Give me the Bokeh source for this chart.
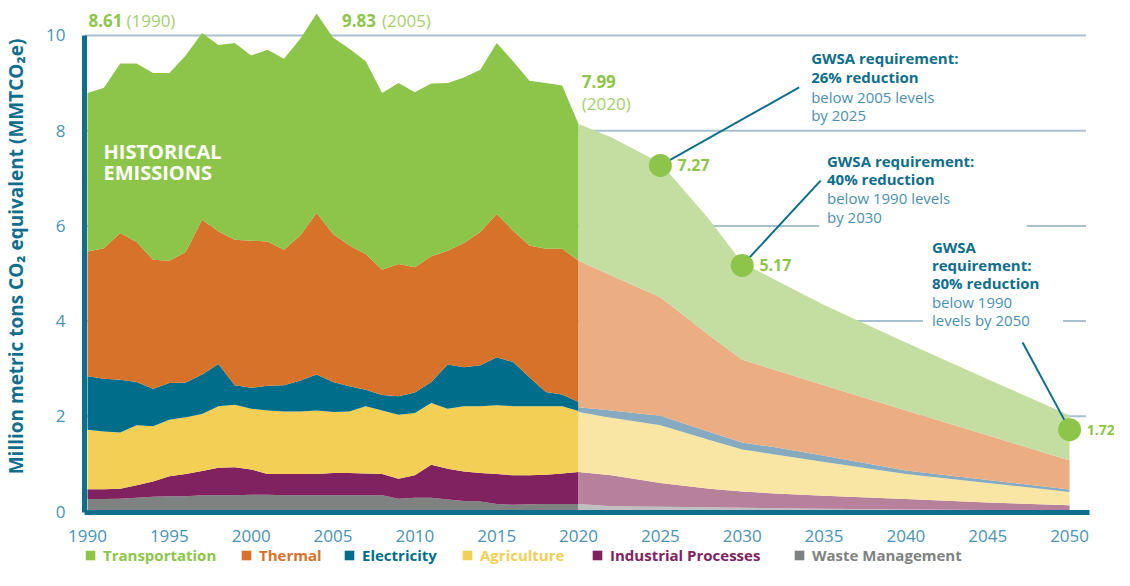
from bokeh.plotting import figure
from bokeh.models import (Range1d, FixedTicker, Label, Legend, LegendItem,
                          BoxAnnotation, ColumnDataSource)
from bokeh.layouts import column
from bokeh.embed import file_html
from bokeh.resources import INLINE

# ---------------- data (million metric tons CO2e) ----------------
hist_years = list(range(1990, 2021))
hist_waste = [0.26, 0.26, 0.27, 0.29, 0.31, 0.32, 0.32, 0.34, 0.34, 0.34, 0.35,
              0.35, 0.34, 0.34, 0.34, 0.34, 0.34, 0.34, 0.34, 0.27, 0.29,
              0.29, 0.25, 0.22, 0.21, 0.16, 0.14, 0.15, 0.16, 0.16, 0.16]
hist_industrial = [0.21, 0.21, 0.21, 0.26, 0.32, 0.42, 0.47, 0.51, 0.58, 0.59, 0.53,
                   0.44, 0.45, 0.45, 0.45, 0.47, 0.47, 0.46, 0.45, 0.42, 0.47,
                   0.69, 0.65, 0.62, 0.60, 0.63, 0.62, 0.61, 0.61, 0.64, 0.67]
hist_agriculture = [1.25, 1.21, 1.18, 1.26, 1.16, 1.19, 1.19, 1.20, 1.29, 1.31, 1.28,
                    1.33, 1.31, 1.31, 1.33, 1.28, 1.29, 1.41, 1.33, 1.34, 1.31,
                    1.30, 1.26, 1.37, 1.40, 1.44, 1.45, 1.45, 1.44, 1.41, 1.28]
hist_electricity = [1.12, 1.11, 1.11, 0.91, 0.79, 0.77, 0.73, 0.83, 0.89, 0.41, 0.44,
                    0.52, 0.55, 0.65, 0.76, 0.63, 0.53, 0.35, 0.33, 0.39, 0.43,
                    0.44, 0.93, 0.82, 0.86, 1.01, 0.93, 0.61, 0.30, 0.25, 0.19]
hist_thermal = [2.62, 2.74, 3.08, 2.94, 2.71, 2.57, 2.74, 3.25, 2.78, 3.06, 3.09,
                3.03, 2.85, 3.05, 3.39, 3.11, 2.96, 2.85, 2.63, 2.78, 2.63,
                2.64, 2.39, 2.61, 2.80, 3.01, 2.76, 2.77, 3.01, 3.06, 2.97]
hist_transportation = [3.33, 3.37, 3.56, 3.75, 3.92, 3.94, 4.13, 3.92, 3.92, 4.13, 3.89,
                       4.03, 4.01, 4.13, 4.19, 4.13, 4.13, 4.05, 3.71, 3.80, 3.68,
                       3.63, 3.52, 3.48, 3.41, 3.59, 3.56, 3.46, 3.48, 3.43, 2.87]

proj_years = [2020, 2022, 2025, 2028, 2030, 2032, 2035, 2040, 2045, 2050]
proj_waste = [0.16, 0.11, 0.10, 0.09, 0.08, 0.07, 0.06, 0.04, 0.03, 0.01]
proj_industrial = [0.67, 0.65, 0.50, 0.39, 0.34, 0.31, 0.27, 0.22, 0.16, 0.12]
proj_agriculture = [1.26, 1.21, 1.21, 1.02, 0.88, 0.82, 0.71, 0.53, 0.41, 0.28]
proj_electricity = [0.10, 0.15, 0.20, 0.17, 0.15, 0.15, 0.13, 0.07, 0.06, 0.05]
proj_thermal = [3.08, 2.84, 2.49, 2.03, 1.74, 1.62, 1.48, 1.26, 0.94, 0.61]
proj_transportation = [2.87, 2.90, 2.82, 2.43, 2.03, 1.90, 1.69, 1.43, 1.18, 0.95]

sectors = ["Transportation", "Thermal", "Electricity", "Agriculture",
           "Industrial Processes", "Waste Management"]
dark_colors = ["#8dc54a", "#d67229", "#006e8b", "#f3cf56", "#80225f", "#7e8281"]
light_colors = ["#c4dea2", "#ebae82", "#86aabf", "#f9e6a5", "#b7819c", "#c0c0c0"]

target_years = [2025, 2030, 2050]
target_values = [7.27, 5.17, 1.72]
target_texts = ["7.27", "5.17", "1.72"]

ref_values = ["8.61", "9.83", "7.99"]
ref_years = ["(1990)", "(2005)", "(2020)"]

y_ticks = [0, 2, 4, 6, 8, 10]
x_ticks = list(range(1990, 2051, 5))

# ---------------- figure ----------------
TEAL = "#0f6e8c"
LIGHT_TEAL = "#4a8fae"
GREEN = "#8dc54a"
PALE_GREEN = "#a4cf6e"
FONT = "Open Sans"
X0, X1 = 1989.817, 2052.744
Y0, Y1 = -0.021, 10.735

p = figure(width=1114, height=546, output_backend="svg", toolbar_location=None,
           x_range=Range1d(X0, X1), y_range=Range1d(Y0, Y1),
           min_border_left=82, min_border_right=0, min_border_top=0,
           min_border_bottom=34)
p.outline_line_color = None
p.background_fill_color = "white"
p.xgrid.visible = False
p.ygrid.visible = False

# horizontal guide lines (one per non-zero y tick), ending just past 2050
grid_levels = [t for t in y_ticks if t > 0]
grid_end = proj_years[-1] + 1.0
p.segment(x0=[X0] * len(grid_levels), y0=grid_levels,
          x1=[grid_end] * len(grid_levels), y1=grid_levels,
          line_color="#a9c0d0", line_width=2)

keys = ["waste", "industrial", "agriculture", "electricity", "thermal", "transportation"]
hist_src = ColumnDataSource(dict(year=hist_years, waste=hist_waste,
                                 industrial=hist_industrial, agriculture=hist_agriculture,
                                 electricity=hist_electricity, thermal=hist_thermal,
                                 transportation=hist_transportation))
proj_src = ColumnDataSource(dict(year=proj_years, waste=proj_waste,
                                 industrial=proj_industrial, agriculture=proj_agriculture,
                                 electricity=proj_electricity, thermal=proj_thermal,
                                 transportation=proj_transportation))

p.varea_stack(stackers=keys, x="year", color=list(reversed(dark_colors)), source=hist_src)
p.varea_stack(stackers=keys, x="year", color=list(reversed(light_colors)), source=proj_src)

# white boxes behind annotation text that interrupt guide lines
p.add_layout(BoxAnnotation(left=2034.70, right=2047.38, bottom=5.90, top=6.41,
                           fill_color="white", fill_alpha=1, line_color=None))
p.add_layout(BoxAnnotation(left=2041.04, right=2049.60, bottom=3.76, top=4.22,
                           fill_color="white", fill_alpha=1, line_color=None))

# leader lines from target dots to the requirement notes
lead_x1 = [2033.48, 2034.79, 2047.13]
lead_y1 = [8.91, 6.95, 3.55]
p.segment(x0=target_years, y0=target_values, x1=lead_x1, y1=lead_y1,
          line_color=TEAL, line_width=2)

p.scatter(x=target_years, y=target_values, size=23, color=GREEN, line_color=None)

# ---------------- axes ----------------
for ax in (p.xaxis[0], p.yaxis[0]):
    ax.axis_line_color = TEAL
    ax.axis_line_width = 5
    ax.major_tick_line_color = None
    ax.minor_tick_line_color = None
    ax.major_label_text_font = FONT
    ax.major_label_text_font_size = "17px"
    ax.major_label_text_color = "#4a93b3"

p.xaxis.ticker = FixedTicker(ticks=x_ticks)
p.xaxis.bounds = (X0, proj_years[-1] + 1.2)
p.xaxis.major_label_standoff = 11
p.yaxis.ticker = FixedTicker(ticks=y_ticks)
p.yaxis.bounds = (Y0, 10)
p.yaxis.major_label_standoff = 13
p.yaxis.axis_label = "Million metric tons CO\u2082 equivalent (MMTCO\u2082e)"
p.yaxis.axis_label_text_font = FONT
p.yaxis.axis_label_text_font_size = "19px"
p.yaxis.axis_label_text_font_style = "bold"
p.yaxis.axis_label_text_color = TEAL
p.yaxis.axis_label_standoff = 14


def lab(x, y, text, color, size="15px", bold=False, align="left"):
    p.add_layout(Label(x=x, y=y, text=text, text_color=color, text_font=FONT,
                       text_font_size=size, text_font_style="bold" if bold else "normal",
                       text_baseline="middle", text_align=align))


# reference level labels
lab(1990.06, 10.315, ref_values[0], GREEN, "17px", True)
lab(1992.38, 10.315, ref_years[0], PALE_GREEN, "17px")
lab(2005.55, 10.315, ref_values[1], GREEN, "17px", True)
lab(2007.99, 10.315, ref_years[1], PALE_GREEN, "17px")
lab(2020.2, 9.034, ref_values[2], GREEN, "17px", True)
lab(2020.2, 8.571, ref_years[2], PALE_GREEN, "17px")

lab(1990.98, 7.563, "HISTORICAL", "white", "20px", True)
lab(1990.98, 7.122, "EMISSIONS", "white", "20px", True)

# target value labels
for yr, v, t in zip(target_years, target_values, target_texts):
    lab(yr + 1.05, v, t, GREEN, "14px" if yr == 2050 else "16px", True)

# requirement notes
notes = [
    (2034.21, [9.517, 9.118, 8.718, 8.330],
     ["GWSA requirement:", "26% reduction", "below 2005 levels", "by 2025"], 2),
    (2035.18, [7.363, 6.975, 6.586, 6.197],
     ["GWSA requirement:", "40% reduction", "below 1990 levels", "by 2030"], 2),
    (2041.59, [5.567, 5.179, 4.790, 4.401, 4.013],
     ["GWSA", "requirement:", "80% reduction", "below 1990", "levels by 2050"], 3),
]
for x, ys, lines, nbold in notes:
    for i, (yy, t) in enumerate(zip(ys, lines)):
        if i < nbold:
            lab(x, yy, t, TEAL, "15px", True)
        else:
            lab(x, yy, t, LIGHT_TEAL, "15px", False)

# ---------------- legend strip (one legend per sector, coloured labels) ----------------
# (the strip's frame is aligned with the main plot's frame, which starts 82px in)
pl = figure(width=1114, height=24, output_backend="svg", toolbar_location=None,
            x_range=Range1d(0, 1), y_range=Range1d(0, 1),
            x_axis_location=None, y_axis_location=None,
            min_border_left=0, min_border_right=0, min_border_top=0, min_border_bottom=0)
pl.grid.visible = False
pl.outline_line_color = None

leg_offsets = [0, 156, 259, 377, 507, 709]
for i, name in enumerate(sectors):
    # zero-height swatch renderer: only its legend glyph is visible
    r = pl.varea(x=[0, 1], y1=[0, 0], y2=[0, 0], fill_color=dark_colors[i])
    leg = Legend(items=[LegendItem(label=name, renderers=[r])],
                 location=(leg_offsets[i], 5), orientation="horizontal",
                 padding=0, margin=0, spacing=0, glyph_width=12, glyph_height=12,
                 label_standoff=7, label_height=14,
                 label_text_font=FONT, label_text_font_size="15px",
                 label_text_font_style="bold", label_text_color=dark_colors[i],
                 background_fill_alpha=0, border_line_color=None)
    pl.add_layout(leg)

layout = column(p, pl, spacing=0)
open("out.html", "w").write(file_html(layout, INLINE))
